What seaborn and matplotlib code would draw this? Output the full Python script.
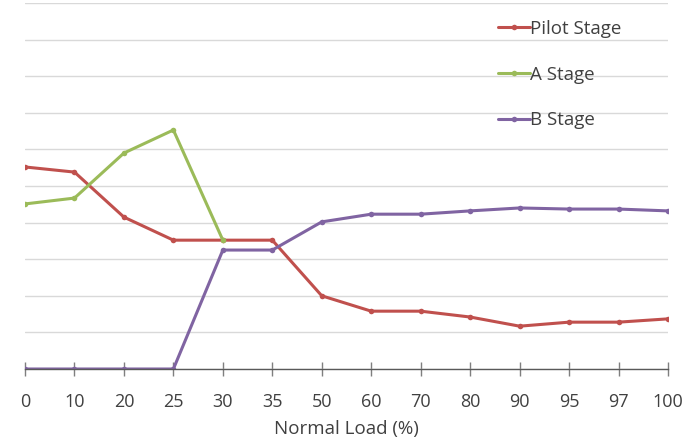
import numpy as np
import pandas as pd
import matplotlib
matplotlib.use("Agg")
import matplotlib.pyplot as plt
import seaborn as sns

loads = ["0", "10", "20", "25", "30", "35", "50", "60", "70", "80", "90", "95", "97", "100"]
pilot = [5.52, 5.38, 4.15, 3.52, 3.52, 3.52, 2.0, 1.58, 1.58, 1.42, 1.17, 1.28, 1.28, 1.37]
a_stage = [4.51, 4.67, 5.90, 6.53, 3.52, np.nan, np.nan, np.nan, np.nan, np.nan, np.nan, np.nan, np.nan, np.nan]
b_stage = [0, 0, 0, 0, 3.25, 3.25, 4.02, 4.23, 4.23, 4.32, 4.40, 4.37, 4.37, 4.32]

series = {"Pilot Stage": pilot, "A Stage": a_stage, "B Stage": b_stage}
colors = {"Pilot Stage": "#C0504D", "A Stage": "#9BBB59", "B Stage": "#8064A2"}

sns.set_style("white")
plt.rcParams["font.family"] = ["Open Sans", "DejaVu Sans"]

fig = plt.figure(figsize=(6.89, 4.40), dpi=100)
ax = fig.add_axes([25 / 689, (440 - 369) / 440, (668 - 25) / 689, 366 / 440])

pos = np.arange(len(loads))
for name, vals in series.items():
    df = pd.DataFrame({"x": pos, "y": vals}).dropna()
    sns.lineplot(data=df, x="x", y="y", ax=ax, color=colors[name], lw=2.2,
                 marker="o", markersize=4, markeredgewidth=0, label=name, sort=False)

ax.set_xlim(0, len(loads) - 1)
ax.set_ylim(0, 10)
ax.set_yticks(np.arange(0, 11, 1))
ax.set_yticklabels([])
ax.tick_params(axis="y", length=0, left=False)
ax.yaxis.grid(True, color="#D9D9D9", lw=1)
ax.set_axisbelow(True)
ax.set_xticks(pos)
ax.set_xticklabels(loads, fontsize=13, color="#404040")
ax.tick_params(axis="x", bottom=True, direction="inout", length=10, width=1,
               color="#7F7F7F", pad=12)
for s in ["left", "right", "top"]:
    ax.spines[s].set_visible(False)
ax.spines["bottom"].set_color("#595959")
ax.spines["bottom"].set_linewidth(1)
ax.set_ylabel("")
ax.set_xlabel("Normal Load (%)", fontsize=13.5, color="#404040", labelpad=7)

leg = ax.legend(loc="upper left", bbox_to_anchor=((498 - 25) / 643, 1 - 17 / 366), frameon=False,
                fontsize=13.5, handlelength=1.7, handletextpad=0.0, labelspacing=1.47,
                borderaxespad=0, borderpad=0)
for t in leg.get_texts():
    t.set_color("#404040")

fig.savefig("out.png", dpi=100)
